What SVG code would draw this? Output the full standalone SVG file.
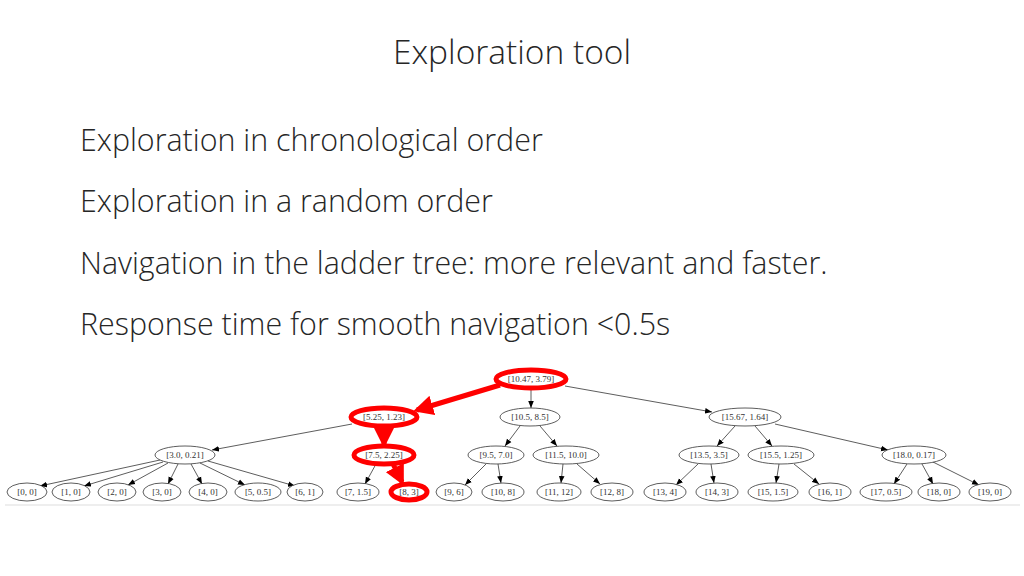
<svg xmlns="http://www.w3.org/2000/svg" width="1024" height="576" viewBox="0 0 1024 576">
<defs>
<marker id="a" viewBox="0 0 10 10" refX="10" refY="5" markerWidth="7" markerHeight="7" markerUnits="userSpaceOnUse" orient="auto"><path d="M0,1 L10,5 L0,9 z" fill="#000"/></marker>
<marker id="r" viewBox="0 0 10 10" refX="8" refY="5" markerWidth="4" markerHeight="4" orient="auto"><path d="M0,0 L10,5 L0,10 z" fill="#f00"/></marker>
</defs>
<style>
.t{font-family:"Open Sans","Liberation Sans",sans-serif;fill:#262626;font-weight:300}
.n ellipse{fill:#fff;stroke:#333;stroke-width:0.8}
.n.h ellipse{stroke:#f00;stroke-width:5}
.n text{font-family:"Liberation Serif",serif;font-size:9px;fill:#333;text-anchor:middle}
.e line{stroke:#333;stroke-width:0.8;marker-end:url(#a)}
.e line.h{stroke:#f00;stroke-width:5;marker-end:url(#r)}
</style>
<rect width="1024" height="576" fill="#fff"/>
<text class="t" x="512" y="64" font-size="33.5" text-anchor="middle">Exploration tool</text>
<text class="t" x="80" y="151" font-size="30.4">Exploration in chronological order</text>
<text class="t" x="80" y="212" font-size="30.4">Exploration in a random order</text>
<text class="t" x="80" y="274" font-size="30.4">Navigation in the ladder tree: more relevant and faster.</text>
<text class="t" x="80" y="335" font-size="30.4">Response time for smooth navigation &lt;0.5s</text>
<line x1="5" y1="505" x2="1020" y2="505" stroke="#ddd" stroke-width="1"/>
<g class="e">
<line class="h" x1="500" y1="385" x2="417" y2="410"/>
<line x1="531" y1="388" x2="531" y2="408"/>
<line x1="565" y1="386" x2="712" y2="412"/>
<line class="h" x1="384" y1="427" x2="384" y2="444"/>
<line x1="352" y1="424" x2="212" y2="450"/>
<line x1="520" y1="426" x2="505" y2="446"/>
<line x1="540" y1="426" x2="557" y2="446"/>
<line x1="735" y1="426" x2="717" y2="446"/>
<line x1="755" y1="426" x2="772" y2="446"/>
<line x1="775" y1="424" x2="888" y2="450"/>
<line x1="160" y1="460" x2="40" y2="486"/>
<line x1="163" y1="462" x2="84" y2="486"/>
<line x1="168" y1="463" x2="128" y2="485"/>
<line x1="178" y1="464" x2="168" y2="484"/>
<line x1="191" y1="464" x2="202" y2="484"/>
<line x1="200" y1="463" x2="245" y2="485"/>
<line x1="208" y1="461" x2="295" y2="486"/>
<line x1="376" y1="464" x2="365" y2="484"/>
<line class="h" x1="393" y1="464" x2="402" y2="482"/>
<line x1="486" y1="464" x2="465" y2="485"/>
<line x1="498" y1="464" x2="501" y2="483"/>
<line x1="563" y1="464" x2="561" y2="483"/>
<line x1="577" y1="464" x2="600" y2="484"/>
<line x1="698" y1="464" x2="676" y2="485"/>
<line x1="711" y1="464" x2="714" y2="483"/>
<line x1="779" y1="464" x2="776" y2="483"/>
<line x1="794" y1="464" x2="819" y2="484"/>
<line x1="907" y1="464" x2="894" y2="484"/>
<line x1="922" y1="464" x2="933" y2="484"/>
<line x1="933" y1="462" x2="979" y2="485"/>
</g>
<g id="n0" class="n h"><ellipse cx="531" cy="379" rx="35" ry="9"/><text x="531" y="382">[10.47, 3.79]</text></g>
<g id="n1" class="n h"><ellipse cx="384" cy="417" rx="33" ry="9"/><text x="384" y="420">[5.25, 1.23]</text></g>
<g id="n2" class="n"><ellipse cx="530" cy="417" rx="30" ry="9"/><text x="530" y="420">[10.5, 8.5]</text></g>
<g id="n3" class="n"><ellipse cx="745" cy="417" rx="36" ry="9"/><text x="745" y="420">[15.67, 1.64]</text></g>
<g id="n4" class="n"><ellipse cx="185" cy="455" rx="30" ry="9"/><text x="185" y="458">[3.0, 0.21]</text></g>
<g id="n5" class="n h"><ellipse cx="384" cy="455" rx="30" ry="9"/><text x="384" y="458">[7.5, 2.25]</text></g>
<g id="n6" class="n"><ellipse cx="496" cy="455" rx="28" ry="9"/><text x="496" y="458">[9.5, 7.0]</text></g>
<g id="n7" class="n"><ellipse cx="566" cy="455" rx="33" ry="9"/><text x="566" y="458">[11.5, 10.0]</text></g>
<g id="n8" class="n"><ellipse cx="709" cy="455" rx="30" ry="9"/><text x="709" y="458">[13.5, 3.5]</text></g>
<g id="n9" class="n"><ellipse cx="781" cy="455" rx="33" ry="9"/><text x="781" y="458">[15.5, 1.25]</text></g>
<g id="n10" class="n"><ellipse cx="914" cy="455" rx="32" ry="9"/><text x="914" y="458">[18.0, 0.17]</text></g>
<g id="l0" class="n"><ellipse cx="27" cy="492" rx="20" ry="9"/><text x="27" y="495">[0, 0]</text></g>
<g id="l1" class="n"><ellipse cx="71" cy="492" rx="19" ry="9"/><text x="71" y="495">[1, 0]</text></g>
<g id="l2" class="n"><ellipse cx="117" cy="492" rx="19" ry="9"/><text x="117" y="495">[2, 0]</text></g>
<g id="l3" class="n"><ellipse cx="162" cy="492" rx="19" ry="9"/><text x="162" y="495">[3, 0]</text></g>
<g id="l4" class="n"><ellipse cx="208" cy="492" rx="19" ry="9"/><text x="208" y="495">[4, 0]</text></g>
<g id="l5" class="n"><ellipse cx="258" cy="492" rx="23" ry="9"/><text x="258" y="495">[5, 0.5]</text></g>
<g id="l6" class="n"><ellipse cx="305" cy="492" rx="18" ry="9"/><text x="305" y="495">[6, 1]</text></g>
<g id="l7" class="n"><ellipse cx="358" cy="492" rx="21" ry="9"/><text x="358" y="495">[7, 1.5]</text></g>
<g id="l8" class="n h"><ellipse cx="409" cy="492" rx="18" ry="8"/><text x="409" y="495">[8, 3]</text></g>
<g id="l9" class="n"><ellipse cx="454" cy="492" rx="18" ry="9"/><text x="454" y="495">[9, 6]</text></g>
<g id="l10" class="n"><ellipse cx="503" cy="492" rx="21" ry="9"/><text x="503" y="495">[10, 8]</text></g>
<g id="l11" class="n"><ellipse cx="559" cy="492" rx="22" ry="9"/><text x="559" y="495">[11, 12]</text></g>
<g id="l12" class="n"><ellipse cx="612" cy="492" rx="21" ry="9"/><text x="612" y="495">[12, 8]</text></g>
<g id="l13" class="n"><ellipse cx="665" cy="492" rx="21" ry="9"/><text x="665" y="495">[13, 4]</text></g>
<g id="l14" class="n"><ellipse cx="717" cy="492" rx="21" ry="9"/><text x="717" y="495">[14, 3]</text></g>
<g id="l15" class="n"><ellipse cx="773" cy="492" rx="25" ry="9"/><text x="773" y="495">[15, 1.5]</text></g>
<g id="l16" class="n"><ellipse cx="830" cy="492" rx="21" ry="9"/><text x="830" y="495">[16, 1]</text></g>
<g id="l17" class="n"><ellipse cx="886" cy="492" rx="26" ry="9"/><text x="886" y="495">[17, 0.5]</text></g>
<g id="l18" class="n"><ellipse cx="939" cy="492" rx="21" ry="9"/><text x="939" y="495">[18, 0]</text></g>
<g id="l19" class="n"><ellipse cx="990" cy="492" rx="21" ry="9"/><text x="990" y="495">[19, 0]</text></g>
</svg>
